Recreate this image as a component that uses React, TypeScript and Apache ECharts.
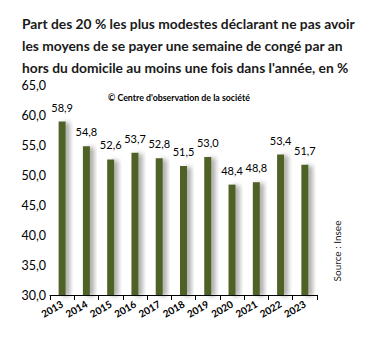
import React, { useEffect, useRef } from "react";
import * as echarts from "echarts";

const years = ["2013", "2014", "2015", "2016", "2017", "2018", "2019", "2020", "2021", "2022", "2023"];
const values = [58.9, 54.8, 52.6, 53.7, 52.8, 51.5, 53.0, 48.4, 48.8, 53.4, 51.7];
const titleLines = [
  "Part des 20 % les plus modestes déclarant ne pas avoir",
  "les moyens de se payer une semaine de congé par an",
  "hors du domicile au moins une fois dans l'année, en %",
];
const copyright = "© Centre d'observation de la société";
const source = "Source : Insee";

const fmt = (v: number) => v.toFixed(1).replace(".", ",");
const FONT = "Lato, 'Open Sans', sans-serif";

export default function App() {
  const ref = useRef<HTMLDivElement>(null);
  useEffect(() => {
    document.body.style.margin = "0";
    if (!ref.current) return;
    const chart = echarts.init(ref.current, null, { renderer: "svg" });
    chart.setOption({
      animation: false,
      backgroundColor: "#ffffff",
      graphic: [
        ...titleLines.map((t, i) => ({
          type: "text",
          left: 22,
          top: 16 + i * 22,
          style: { text: t, font: `bold 13.8px ${FONT}`, fill: "#1a1a1a" },
        })),
        {
          type: "text",
          x: 179,
          y: 97,
          style: {
            text: copyright,
            font: `bold 8.8px ${FONT}`,
            fill: "#000",
            align: "center",
            verticalAlign: "middle",
          },
        },
        {
          type: "text",
          x: 337,
          y: 251,
          rotation: Math.PI / 2,
          style: {
            text: source,
            font: `10px ${FONT}`,
            fill: "#222",
            align: "center",
            verticalAlign: "middle",
          },
        },
      ],
      grid: { left: 50, right: 56, top: 85, bottom: 53, containLabel: false },
      xAxis: {
        type: "category",
        data: years,
        axisLine: { lineStyle: { color: "#000", width: 1 } },
        axisTick: { show: true, length: 5, lineStyle: { color: "#000" } },
        axisLabel: {
          rotate: 30,
          fontSize: 10,
          fontWeight: "bold",
          fontFamily: FONT,
          color: "#000",
          margin: 8,
          interval: 0,
        },
      },
      yAxis: {
        type: "value",
        min: 30,
        max: 65,
        interval: 5,
        axisLine: { show: false },
        axisTick: { show: false },
        splitLine: { show: false },
        axisLabel: {
          fontSize: 12.5,
          fontFamily: FONT,
          color: "#000",
          margin: 4,
          formatter: (v: number) => fmt(v),
        },
      },
      series: [
        {
          type: "bar",
          data: values,
          barWidth: 7,
          itemStyle: {
            color: "#4f6228",
            shadowColor: "rgba(0,0,0,0.35)",
            shadowBlur: 5,
            shadowOffsetX: 4,
            shadowOffsetY: 1,
          },
          label: {
            show: true,
            position: "top",
            distance: 9,
            fontSize: 11,
            fontFamily: FONT,
            color: "#000",
            formatter: (p: any) => fmt(p.value),
          },
        },
      ],
    });
    return () => chart.dispose();
  }, []);
  return <div ref={ref} style={{ width: 373, height: 348 }} />;
}
